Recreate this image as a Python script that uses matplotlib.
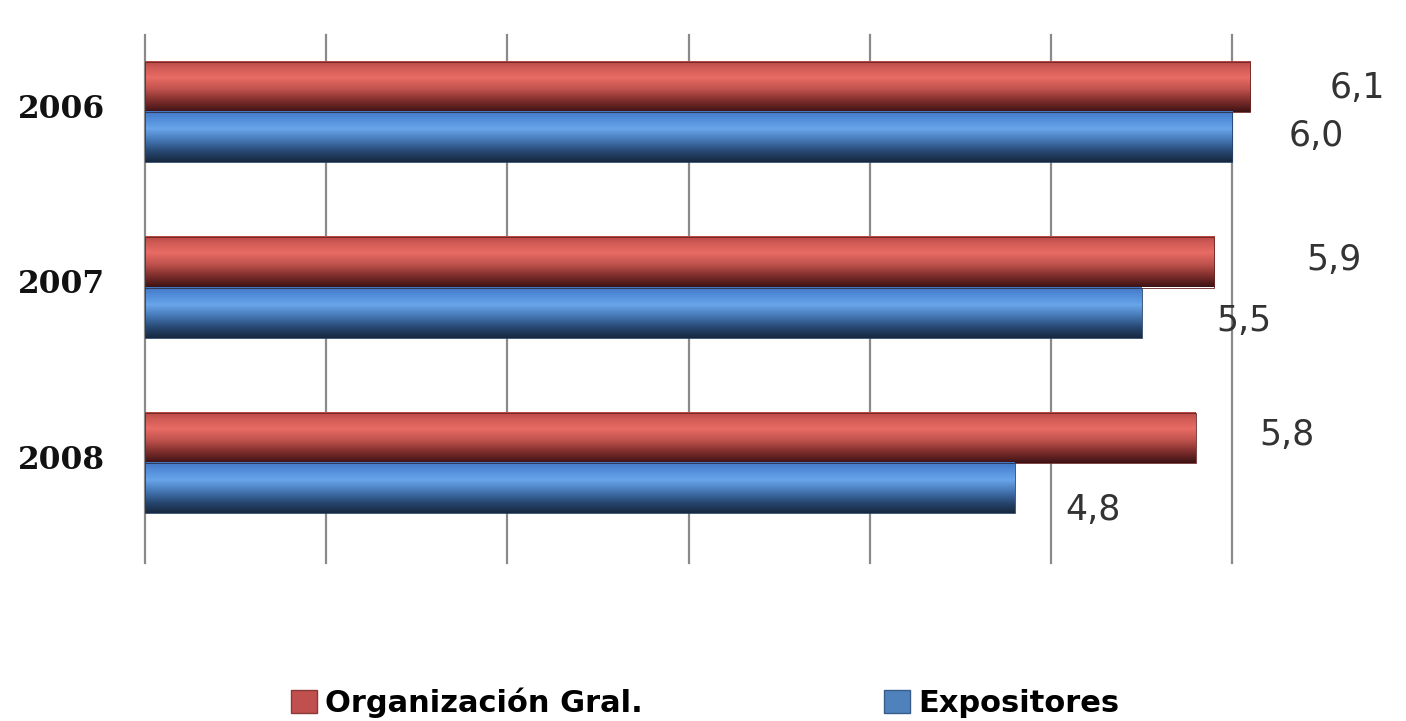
import matplotlib.pyplot as plt
import numpy as np
from matplotlib.colors import LinearSegmentedColormap
from matplotlib.patches import Patch

years = ['2006', '2007', '2008']
organizacion = [6.1, 5.9, 5.8]
expositores = [6.0, 5.5, 4.8]
labels_org = ['6,1', '5,9', '5,8']
labels_exp = ['6,0', '5,5', '4,8']

# gradientes tipo "cilindro" (de arriba hacia abajo)
cm_red = LinearSegmentedColormap.from_list('r', [(0, '#b94845'), (0.12, '#cf5a55'),
                                                 (0.32, '#e96c66'), (0.55, '#c0524d'),
                                                 (0.78, '#7e2e2c'), (1, '#3e1314')])
cm_blue = LinearSegmentedColormap.from_list('b', [(0, '#4476c6'), (0.15, '#528cd8'),
                                                  (0.35, '#68a5ea'), (0.58, '#4475b2'),
                                                  (0.8, '#274670'), (1, '#172940')])

fig = plt.figure(figsize=(14.06, 7.21), dpi=100)
ax = fig.add_axes([145/1406, 1-563/721, 6.8*181.2/1406, (563-35)/721])

h = 0.285
y = np.arange(len(years))
grad = np.linspace(0, 1, 100).reshape(-1, 1)

for i in range(len(years)):
    for val, off, cm in [(organizacion[i], -h/2, cm_red), (expositores[i], h/2, cm_blue)]:
        yc = y[i] + off
        ax.imshow(grad, cmap=cm, aspect='auto', origin='upper',
                  extent=(0, val, yc + h/2, yc - h/2), zorder=3, interpolation='bilinear')
        ax.add_patch(plt.Rectangle((0, yc - h/2), val, h, fill=False,
                                   edgecolor=cm(0.85), lw=0.6, zorder=4))

# etiquetas de valores (desplazamiento en unidades de datos, como en el original)
dx_org = [0.44, 0.51, 0.35]
dy_org = [0.005, -0.015, -0.015]
dx_exp = [0.31, 0.41, 0.28]
dy_exp = [-0.005, 0.05, 0.125]
for i in range(len(years)):
    ax.text(organizacion[i] + dx_org[i], y[i] - h/2 + dy_org[i], labels_org[i], fontsize=25,
            color='#333333', va='center', ha='left', family='DejaVu Sans')
    ax.text(expositores[i] + dx_exp[i], y[i] + h/2 + dy_exp[i], labels_exp[i], fontsize=25,
            color='#333333', va='center', ha='left', family='DejaVu Sans')

for gx in range(0, 7):
    ax.axvline(gx, color='#8a8a8a', lw=1.6, zorder=1, clip_on=False)

ax.set_xlim(0, 6.8)
ax.set_ylim(2 + (563-463)/175.5, -(112-35)/175.5)
ax.set_yticks(y - 0.035)
ax.set_yticklabels(years, family='DejaVu Serif', fontweight='bold', fontsize=22.5, color='#111111')
ax.tick_params(axis='y', length=0, pad=29)
ax.set_xticks([])
for s in ax.spines.values():
    s.set_visible(False)

handles = [Patch(facecolor='#c0504d', edgecolor='#8c3836', label='Organización Gral.'),
           Patch(facecolor='#4f81bd', edgecolor='#385d8a', label='Expositores')]
fig.legend(handles=handles, loc='center', bbox_to_anchor=(705/1406, 1-703/721), ncol=2,
           frameon=False, prop={'family': 'DejaVu Sans', 'weight': 'bold', 'size': 22},
           handlelength=0.85, handleheight=0.8, handletextpad=0.26, columnspacing=7.9)

fig.savefig('out.png', dpi=100)
